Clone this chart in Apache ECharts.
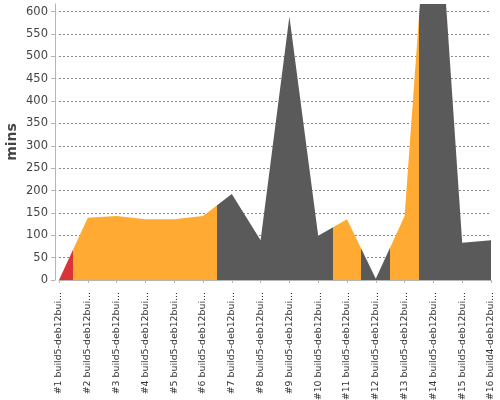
<!DOCTYPE html>
<html>
<head>
<meta charset="utf-8">
<script src="https://cdn.jsdelivr.net/npm/echarts@6/dist/echarts.min.js"></script>
<style>
html,body{margin:0;padding:0;background:#fff;}
#chart{width:500px;height:400px;}
</style>
</head>
<body>
<div id="chart"></div>
<script>
var buildLabels = [
  "#1 build5-deb12bui...", "#2 build5-deb12bui...", "#3 build5-deb12bui...", "#4 build5-deb12bui...",
  "#5 build5-deb12bui...", "#6 build5-deb12bui...", "#7 build5-deb12bui...", "#8 build5-deb12bui...",
  "#9 build5-deb12bui...", "#10 build5-deb12bui...", "#11 build5-deb12bui...", "#12 build5-deb12bui...",
  "#13 build5-deb12bui...", "#14 build5-deb12bui...", "#15 build5-deb12bui...", "#16 build4-deb12bui..."
];
var durationMins = [0, 139, 143, 136, 136, 143, 192, 89, 589, 99, 136, 3, 143, 1035, 83, 89];
var buildStatus = ["FAILURE", "UNSTABLE", "UNSTABLE", "UNSTABLE", "UNSTABLE", "UNSTABLE",
  "SUCCESS", "SUCCESS", "SUCCESS", "SUCCESS", "UNSTABLE", "SUCCESS", "UNSTABLE",
  "SUCCESS", "SUCCESS", "SUCCESS"];
var yTickStep = 50;
var statusColors = { FAILURE: "#da3338", UNSTABLE: "#ffab33", SUCCESS: "#5a5a5a" };

var seriesData = durationMins.map(function (v, i) { return [i + 1, v]; });
var pieces = buildStatus.map(function (s, i) {
  var p = { color: statusColors[s] };
  if (i > 0) p.gt = i + 0.5;
  if (i < buildStatus.length - 1) p.lte = i + 1.5;
  return p;
});

var chart = echarts.init(document.getElementById('chart'), null, { renderer: 'canvas' });
chart.setOption({
  animation: false,
  backgroundColor: '#ffffff',
  grid: { left: 59, right: 9, top: 4, bottom: 120, containLabel: false, outerBoundsMode: 'none' },
  visualMap: {
    type: 'piecewise', show: false, dimension: 0, seriesIndex: 0, pieces: pieces
  },
  xAxis: {
    type: 'value', min: 1, max: buildLabels.length, interval: 1, offset: 4,
    axisLine: { show: true, lineStyle: { color: '#b5b5b5', width: 1 } },
    axisTick: { show: true, length: 3, lineStyle: { color: '#b5b5b5' } },
    splitLine: { show: false },
    axisLabel: {
      rotate: 90, margin: 8, fontFamily: 'DejaVu Sans', fontSize: 9.4, color: '#333',
      padding: [5, 0, 0, 0],
      showMinLabel: true, showMaxLabel: true,
      formatter: function (v) { return buildLabels[Math.round(v) - 1] || ''; }
    }
  },
  yAxis: {
    type: 'value', min: 0, max: 617, interval: yTickStep, offset: 4, z: 3,
    name: 'mins', nameLocation: 'middle', nameGap: 36, nameMoveOverlap: false,
    nameTextStyle: { fontFamily: 'DejaVu Sans', fontSize: 14, fontWeight: 'bold', color: '#444' },
    axisLine: { show: true, lineStyle: { color: '#b5b5b5', width: 1 } },
    axisTick: { show: true, length: 4, lineStyle: { color: '#b5b5b5' } },
    axisLabel: { margin: 7, fontFamily: 'DejaVu Sans', fontSize: 11.5, color: '#444', showMaxLabel: false },
    splitLine: {
      show: true, showMaxLine: false, showMinLine: false,
      lineStyle: { color: 'rgba(40,40,40,0.55)', width: 1, type: [2, 2] }
    }
  },
  series: [{
    type: 'line',
    data: seriesData,
    symbol: 'none',
    lineStyle: { width: 0 },
    areaStyle: { opacity: 1 }
  }]
});
</script>
</body>
</html>
